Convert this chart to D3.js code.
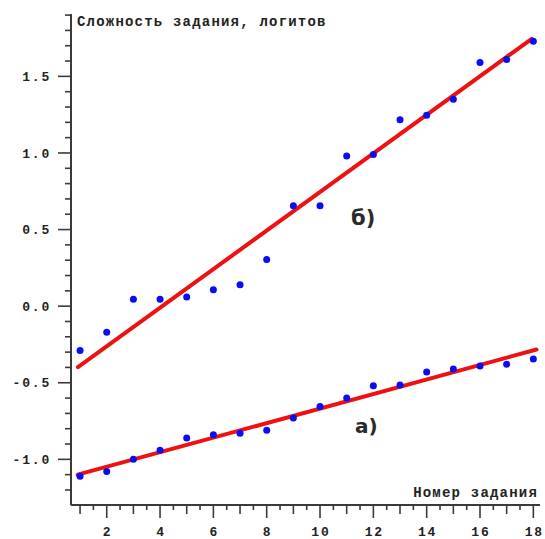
<!DOCTYPE html>
<html><head><meta charset="utf-8">
<script src="https://cdn.jsdelivr.net/npm/d3@7"></script>
<style>body{margin:0;background:#fff}svg{display:block}</style>
</head><body>
<svg id="c" width="545" height="539"></svg>
<script>
const tasks = [1,2,3,4,5,6,7,8,9,10,11,12,13,14,15,16,17,18];
const seriesA = [-1.11,-1.08,-1.00,-0.94,-0.86,-0.84,-0.83,-0.81,-0.73,-0.655,-0.60,-0.52,-0.515,-0.43,-0.41,-0.39,-0.38,-0.345];
const seriesB = [-0.29,-0.17,0.045,0.045,0.06,0.107,0.14,0.305,0.655,0.655,0.98,0.99,1.217,1.247,1.35,1.59,1.61,1.73];
const fitAx = [0.91, 18.12], fitAy = [-1.10, -0.283];
const fitBx = [0.92, 17.94], fitBy = [-0.398, 1.745];
const yTickLabels = [-1.0,-0.5,0.0,0.5,1.0,1.5];
const xTickLabels = [2,4,6,8,10,12,14,16,18];
const yTitle = "Сложность задания, логитов";
const xTitle = "Номер задания";
const labelA = "а)", labelB = "б)";

const svg = d3.select("#c");
const x = d3.scaleLinear().domain([0.66, 18.25]).range([71, 540]);
const y = d3.scaleLinear().domain([-1.3, 1.9]).range([505.3, 15.1]);
const axisCol = "#3a3a3a";
const mono = "'Liberation Mono', 'Courier New', monospace";

// Fit lines
const line = d3.line().x(d => x(d[0])).y(d => y(d[1]));
[[fitAx, fitAy],[fitBx, fitBy]].forEach(([xs, ys]) => {
  svg.append("path").datum(xs.map((v,i)=>[v, ys[i]]))
    .attr("d", line).attr("fill","none").attr("stroke","#ee1111")
    .attr("stroke-width",4).attr("stroke-linecap","round");
});

// Points
[seriesA, seriesB].forEach(s => {
  svg.append("g").selectAll("circle").data(s).join("circle")
    .attr("cx",(d,i)=>x(tasks[i])).attr("cy",d=>y(d)).attr("r",3.5).attr("fill","#0b0bf5");
});

// Y axis
const yMinor = d3.range(-12, 20).map(v => v/10);
const yAx = svg.append("g").attr("transform","translate(71,0)");
yAx.append("line").attr("x1",0).attr("x2",0).attr("y1",y(1.9)-1).attr("y2",y(-1.3)).attr("stroke",axisCol).attr("stroke-width",2);
yAx.selectAll(".mt").data(yMinor).join("line")
  .attr("x1",d => (Math.round(d*10)%5===0) ? -13 : -6).attr("x2",0)
  .attr("y1",d=>y(d)).attr("y2",d=>y(d)).attr("stroke",axisCol).attr("stroke-width",1.6);
yAx.selectAll("text").data(yTickLabels).join("text")
  .attr("x",-20).attr("y",d=>y(d)).attr("dy","0.36em").attr("text-anchor","end")
  .attr("font-family",mono).attr("font-weight","bold").attr("font-size",13)
  .attr("letter-spacing","1.8px").attr("fill","#222")
  .text(d => d3.format(".1f")(d).replace("−","-"));

// X axis
const xMinor = d3.range(2, 37).map(v => v/2);
const xAx = svg.append("g").attr("transform","translate(0,505)");
xAx.append("line").attr("x1",71).attr("x2",540).attr("y1",0).attr("y2",0).attr("stroke",axisCol).attr("stroke-width",2);
xAx.selectAll("line.t").data(xMinor).join("line").attr("class","t")
  .attr("x1",d=>x(d)).attr("x2",d=>x(d)).attr("y1",0)
  .attr("y2",d => d%2===0 ? 13 : (d%1===0 ? 9 : 5))
  .attr("stroke",axisCol).attr("stroke-width",1.6);
xAx.selectAll("text").data(xTickLabels).join("text")
  .attr("x",d=>x(d)+0.9).attr("y",31).attr("text-anchor","middle")
  .attr("font-family",mono).attr("font-weight","bold").attr("font-size",13)
  .attr("letter-spacing","1.8px").attr("fill","#222").text(d=>d);

// Titles
svg.append("text").attr("x",77).attr("y",26).attr("font-family",mono).attr("font-weight","bold")
  .attr("font-size",14).attr("letter-spacing","1.2px").attr("fill","#222").text(yTitle);
svg.append("text").attr("x",538).attr("y",497).attr("text-anchor","end").attr("font-family",mono).attr("font-weight","bold")
  .attr("font-size",14).attr("letter-spacing","1.2px").attr("fill","#222").text(xTitle);

// Series labels
svg.append("text").attr("x",351).attr("y",225).attr("font-family","'DejaVu Sans', Verdana, sans-serif")
  .attr("font-weight","bold").attr("font-size",21).attr("fill","#2a2a2a").text(labelB);
svg.append("text").attr("x",355).attr("y",433).attr("font-family","'DejaVu Sans', Verdana, sans-serif")
  .attr("font-weight","bold").attr("font-size",20).attr("fill","#2a2a2a").text(labelA);
</script>
</body></html>
